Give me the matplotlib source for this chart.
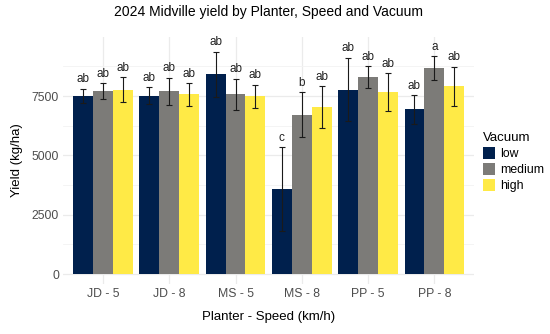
import numpy as np
import matplotlib
matplotlib.use("Agg")
import matplotlib.pyplot as plt

plt.rcParams['font.family'] = ['Liberation Sans', 'DejaVu Sans']

# data
groups = ["JD - 5", "JD - 8", "MS - 5", "MS - 8", "PP - 5", "PP - 8"]
vacuum = ["low", "medium", "high"]
colors = ["#00204D", "#7C7B78", "#FFEA46"]

yield_low = [7510, 7510, 8430, 3580, 7780, 6940]
yield_med = [7710, 7710, 7570, 6710, 8300, 8690]
yield_high = [7780, 7570, 7500, 7050, 7670, 7910]

err_low = [310, 360, 950, 1770, 1340, 610]
err_med = [350, 570, 670, 950, 450, 500]
err_high = [510, 490, 490, 880, 790, 830]

letters_low = ["ab", "ab", "ab", "c", "ab", "ab"]
letters_med = ["ab", "ab", "ab", "b", "ab", "a"]
letters_high = ["ab", "ab", "ab", "ab", "ab", "ab"]

means = [yield_low, yield_med, yield_high]
errs = [err_low, err_med, err_high]
letters = [letters_low, letters_med, letters_high]

fig = plt.figure(figsize=(5.5, 3.34), dpi=100)
ax = fig.add_axes([0.115, 0.151, 0.747, 0.738])

x = np.arange(len(groups))
w = 0.3
for i in range(3):
    xs = x + (i - 1) * w
    ax.bar(xs, means[i], width=w, color=colors[i], label=vacuum[i], zorder=2)
    ax.errorbar(xs, means[i], yerr=errs[i], fmt="none", ecolor="#1a1a1a",
                elinewidth=0.8, capsize=2, capthick=0.8, zorder=3)
    for xi, m, e, t in zip(xs, means[i], errs[i], letters[i]):
        ax.text(xi, m + e + 140, t, ha="center", va="bottom", fontsize=8.5,
                color="#222222", zorder=4)

ax.set_xlim(-0.6, 5.6)
ax.set_ylim(-400, 9990)
ax.set_xticks(x)
ax.set_xticklabels(groups)
ax.set_yticks([0, 2500, 5000, 7500])
ax.set_yticks([1250, 3750, 6250, 8750], minor=True)
ax.grid(True, which="major", color="#EBEBEB", linewidth=0.9, zorder=0)
ax.grid(True, which="minor", axis="y", color="#F3F3F3", linewidth=0.6, zorder=0)
ax.set_axisbelow(True)
for s in ax.spines.values():
    s.set_visible(False)
ax.tick_params(axis="both", which="both", length=0, labelsize=8.8,
               labelcolor="#4D4D4D", pad=3)

ax.set_xlabel("Planter - Speed (km/h)", fontsize=9.5, labelpad=8)
ax.set_ylabel("Yield (kg/ha)", fontsize=9.5, labelpad=6)
fig.suptitle("2024 Midville yield by Planter, Speed and Vacuum", fontsize=10,
             x=0.489, y=0.985)

leg = ax.legend(title="Vacuum", loc="upper left", bbox_to_anchor=(1.01, 0.635),
                frameon=False, fontsize=8.8, title_fontsize=9.5,
                handlelength=1.0, handleheight=1.1, labelspacing=0.25,
                handletextpad=0.4, borderaxespad=0.0)
leg._legend_box.align = "left"

fig.savefig("out.png", dpi=100)
